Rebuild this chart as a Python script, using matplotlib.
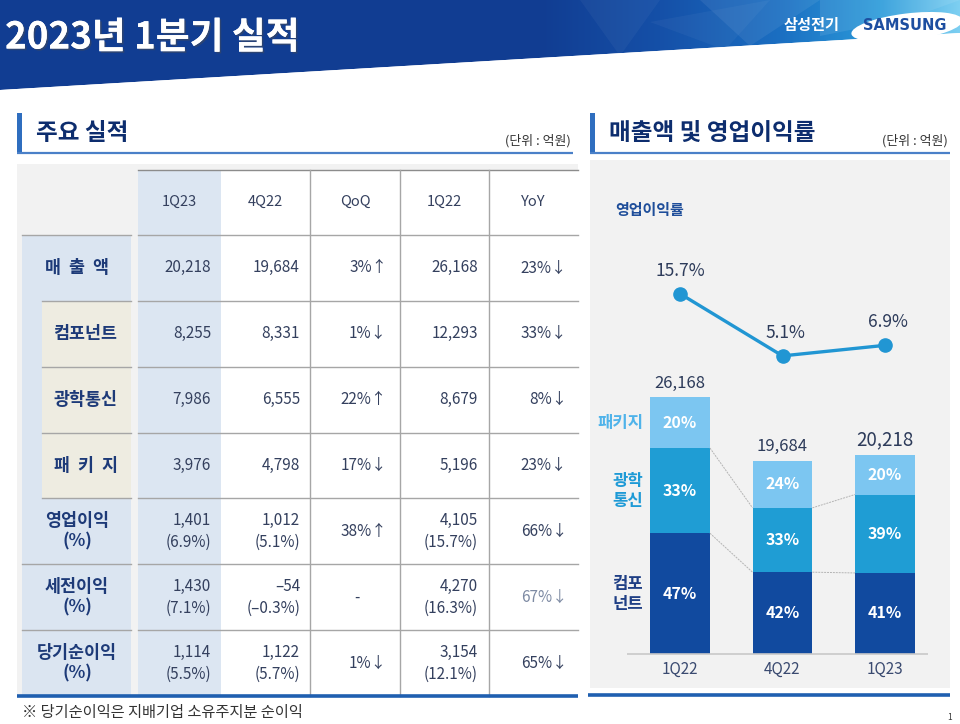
import numpy as np
import matplotlib.pyplot as plt
from matplotlib.patches import Rectangle, Polygon, Ellipse
import matplotlib.patheffects as pe
from matplotlib.colors import to_rgb

plt.rcParams['font.family'] = ['Noto Sans CJK KR', 'DejaVu Sans']

# ---- table data (단위: 억원) ----
row_labels = ['매  출  액', '컴포넌트', '광학통신', '패  키  지',
              '영업이익\n(%)', '세전이익\n(%)', '당기순이익\n(%)']
sub_rows = [False, True, True, True, False, False, False]
col_labels = ['1Q23', '4Q22', 'QoQ', '1Q22', 'YoY']
val_1q23 = [20218, 8255, 7986, 3976, 1401, 1430, 1114]
val_4q22 = [19684, 8331, 6555, 4798, 1012, -54, 1122]
val_1q22 = [26168, 12293, 8679, 5196, 4105, 4270, 3154]
pct_1q23 = [None, None, None, None, 6.9, 7.1, 5.5]
pct_4q22 = [None, None, None, None, 5.1, -0.3, 5.7]
pct_1q22 = [None, None, None, None, 15.7, 16.3, 12.1]
qoq = ['3%↑', '1%↓', '22%↑', '17%↓', '38%↑', '-', '1%↓']
yoy = ['23%↓', '33%↓', '8%↓', '23%↓', '66%↓', '67%↓', '65%↓']
footnote = '※ 당기순이익은 지배기업 소유주지분 순이익'

# ---- chart data ----
quarters = ['1Q22', '4Q22', '1Q23']
seg_labels = ['컴포\n넌트', '광학\n통신', '패키지']
comp = [12293, 8331, 8255]
optic = [8679, 6555, 7986]
pkg = [5196, 4798, 3976]
totals = [26168, 19684, 20218]
op_margin = [15.7, 5.1, 6.9]

NAVY = '#1d3a78'
TXT = '#34405e'
BLUE_LINE = '#1f5fb0'
C_COMP, C_OPT, C_PKG = '#114a9f', '#1f9dd4', '#7cc6f1'

fig = plt.figure(figsize=(9.6, 7.24), dpi=100)
bg = fig.add_axes([0, 0, 1, 1])
bg.set_xlim(0, 960)
bg.set_ylim(724, 0)
bg.axis('off')

# header band with gradient
stops_x = [0, 540, 660, 780, 880, 960]
stops_c = [to_rgb(c) for c in ['#113d92', '#113d92', '#1550a8', '#1b6fc2', '#2b9bda', '#7fd0f2']]
xs = np.arange(960)
grad = np.zeros((1, 960, 3))
for k in range(3):
    grad[0, :, k] = np.interp(xs, stops_x, [c[k] for c in stops_c])
im = bg.imshow(grad, extent=(0, 960, 95, 0), aspect='auto', zorder=1)
band = Polygon([(0, 0), (960, 0), (960, 33), (0, 90)], closed=True,
               facecolor='none', edgecolor='none', transform=bg.transData)
bg.add_patch(band)
im.set_clip_path(band)
for pts, a in [([(580, 0), (660, 0), (620, 56)], 0.04),
               ([(700, 0), (820, 0), (750, 46)], 0.07),
               ([(820, 0), (960, 0), (910, 18), (820, 36)], 0.09),
               ([(650, 22), (770, 0), (725, 50)], 0.04)]:
    bg.add_patch(Polygon(pts, closed=True, facecolor='white', alpha=a,
                         edgecolor='none', zorder=2))
bg.add_patch(Polygon([(0, 90), (960, 33), (960, 40), (0, 96)], closed=True,
                     facecolor='white', edgecolor='none', zorder=2))

bg.text(5, 38, '2023년 1분기 실적', color='white', fontsize=26.5, fontweight='bold',
        va='center', ha='left', zorder=3,
        path_effects=[pe.withSimplePatchShadow(offset=(1.2, -1.2), alpha=0.45), pe.Normal()])
bg.text(812, 25, '삼성전기', color='white', fontsize=11, fontweight='bold',
        va='center', ha='center', zorder=3)
bg.add_patch(Ellipse((907, 27), 112, 27, angle=-7, facecolor='white',
                     edgecolor='none', zorder=3))
bg.text(905, 26, 'SAMSUNG', color='#1d4ea0', fontsize=10.5, fontweight='bold',
        family='DejaVu Sans', va='center', ha='center', zorder=4)

# section headers
for x0, x1, title in [(17, 573, '주요 실적'), (590, 950, '매출액 및 영업이익률')]:
    bg.add_patch(Rectangle((x0, 113), 5, 39, facecolor='#2f6ebf', edgecolor='none'))
    bg.plot([x0, x1], [152.5, 152.5], color='#4a80c8', lw=1.6, solid_capstyle='butt')
    bg.text(x0 + 19, 133, title, color='#0d2d6e', fontsize=17, fontweight='bold',
            va='center', ha='left')
    bg.text(x1 - 2, 141, '(단위 : 억원)', color='#333333', fontsize=9.3,
            va='center', ha='right')

# ---- table ----
bg.add_patch(Rectangle((17, 164), 561, 531, facecolor='#f2f2f2', edgecolor='none'))
row_top, row_h = 235, 65.86
n_rows = len(row_labels)
table_bottom = row_top + row_h * n_rows
col_edges = [138, 221, 310, 400, 489, 578]
bg.add_patch(Rectangle((221, 170), 357, table_bottom - 170, facecolor='white', edgecolor='none'))
bg.add_patch(Rectangle((138, 170), 83, table_bottom - 170, facecolor='#dce6f2', edgecolor='none'))
bg.add_patch(Rectangle((22, row_top), 109, table_bottom - row_top, facecolor='#dbe5f1', edgecolor='none'))
grid_c = '#a6a6a6'
bg.plot([138, 578], [170, 170], color='#8c8c8c', lw=1)
for i in range(n_rows):
    y0 = row_top + row_h * i
    if sub_rows[i]:
        bg.add_patch(Rectangle((42, y0), 89, row_h, facecolor='#eeece1', edgecolor='none'))
    lab_left = 42 if (sub_rows[i] or (i > 0 and sub_rows[i - 1])) else 22
    bg.plot([lab_left, 131], [y0, y0], color=grid_c, lw=1)
    bg.plot([138, 578], [y0, y0], color=grid_c, lw=1)
for xe in col_edges[2:5]:
    bg.plot([xe, xe], [170, table_bottom], color=grid_c, lw=1)

header_cy = 202
for j, lab in enumerate(col_labels):
    cx = (col_edges[j] + col_edges[j + 1]) / 2
    bg.text(cx, header_cy, lab, color=TXT, fontsize=10.5, ha='center', va='center')


def fmt_num(v):
    return f'{v:,}'.replace('-', '–')


def fmt_pct(p):
    return f'({p:.1f}%)'.replace('-', '–')


right_x = [211, 300, 387, 478, 567]
for i in range(n_rows):
    cy = row_top + row_h * (i + 0.5)
    lx = 86 if sub_rows[i] else 77
    bg.text(lx, cy, row_labels[i], color=NAVY, fontsize=12.5, fontweight='bold',
            ha='center', va='center', linespacing=1.2)
    for j, (vals, pcts) in enumerate([(val_1q23, pct_1q23), (val_4q22, pct_4q22),
                                      (None, None), (val_1q22, pct_1q22)]):
        if vals is None:
            continue
        if pcts[i] is None:
            bg.text(right_x[j], cy, fmt_num(vals[i]), color=TXT, fontsize=11,
                    ha='right', va='center')
        else:
            bg.text(right_x[j], cy - 11, fmt_num(vals[i]), color=TXT, fontsize=11,
                    ha='right', va='center')
            bg.text(right_x[j], cy + 11, fmt_pct(pcts[i]), color=TXT, fontsize=11,
                    ha='right', va='center')
    if qoq[i] == '-':
        bg.text(357, cy, '-', color=TXT, fontsize=11, ha='center', va='center')
    else:
        bg.text(right_x[2], cy, qoq[i], color=TXT, fontsize=11, ha='right', va='center')
    yoy_c = '#7d8aa3' if i == 5 else TXT
    bg.text(right_x[4], cy, yoy[i], color=yoy_c, fontsize=11, ha='right', va='center')

bg.plot([17, 578], [696, 696], color=BLUE_LINE, lw=2.6, solid_capstyle='butt')
bg.text(22, 712, footnote, color='#333333', fontsize=11, ha='left', va='center')
bg.text(950, 718, '1', color='#333333', fontsize=6, ha='center', va='center')

# ---- chart panel ----
bg.add_patch(Rectangle((590, 160), 360, 528, facecolor='#f2f2f2', edgecolor='none'))
bg.plot([588, 950], [695, 695], color=BLUE_LINE, lw=2.6, solid_capstyle='butt')
bg.text(615, 210, '영업이익률', color='#1f4e9a', fontsize=10.8, fontweight='bold',
        ha='left', va='center')


def px_axes(left, top, right, bottom):
    return fig.add_axes([left / 960, 1 - bottom / 724, (right - left) / 960, (bottom - top) / 724])


ax = px_axes(618.5, 359.4, 946.5, 654)
ax.set_xlim(-0.6, 2.6)
ax.set_ylim(0, 30000)
ax.patch.set_alpha(0)
for s in ax.spines.values():
    s.set_visible(False)
x = np.arange(len(quarters))
w = 0.585
comp_a, optic_a, pkg_a = np.array(comp), np.array(optic), np.array(pkg)
ax.bar(x, comp_a, w, color=C_COMP)
ax.bar(x, optic_a, w, bottom=comp_a, color=C_OPT)
ax.bar(x, pkg_a, w, bottom=comp_a + optic_a, color=C_PKG)
ax.hlines(0, -0.52, 2.42, color='#c8c8c8', lw=1.2, clip_on=False)
ax.set_xticks(x, quarters)
ax.set_yticks([])
ax.tick_params(axis='x', length=0, pad=5, labelsize=11, labelcolor='#3a4a70')

# connectors between bars
for b in [comp_a, comp_a + optic_a]:
    for k in range(len(x) - 1):
        ax.plot([x[k] + w / 2, x[k + 1] - w / 2], [b[k], b[k + 1]], color='#b4b4b4',
                lw=0.7, ls=(0, (2, 1)))

stack_tot = comp_a + optic_a + pkg_a
for k in range(len(x)):
    bottoms = [0, comp_a[k], comp_a[k] + optic_a[k]]
    for seg, b0 in zip([comp_a, optic_a, pkg_a], bottoms):
        share = round(seg[k] / totals[k] * 100)
        ax.text(x[k], b0 + seg[k] / 2, f'{share}%', color='white', fontsize=11.5,
                fontweight='bold', ha='center', va='center')
    ax.annotate(f'{totals[k]:,}', (x[k], stack_tot[k]), xytext=(0, 4),
                textcoords='offset points', ha='center', va='bottom', color='#2d3b5a',
                fontsize=13.5 if k == 2 else 12)

seg_colors = ['#1f3f85', '#1e9ad6', '#4fb3ea']
for seg, b0, lab, c in zip([comp_a, optic_a, pkg_a], [0, comp_a[0], comp_a[0] + optic_a[0]],
                           seg_labels, seg_colors):
    ax.text(-0.36, b0 + seg[0] / 2, lab, color=c, fontsize=12, fontweight='bold',
            ha='right', va='center', linespacing=1.15, multialignment='center')

ax2 = px_axes(618.5, 268.5, 946.5, 385.8)
ax2.set_xlim(-0.6, 2.6)
ax2.set_ylim(0, 20)
ax2.axis('off')
ax2.plot(x, op_margin, color='#2196d3', lw=2.4, marker='o', markersize=9.5,
         clip_on=False)
for k in range(len(x)):
    ax2.annotate(f'{op_margin[k]}%', (x[k], op_margin[k]), xytext=(2 if k else 0, 10),
                 textcoords='offset points', ha='center', va='bottom',
                 color='#2d3b5a', fontsize=12.5)

fig.savefig('out.png', dpi=100)
